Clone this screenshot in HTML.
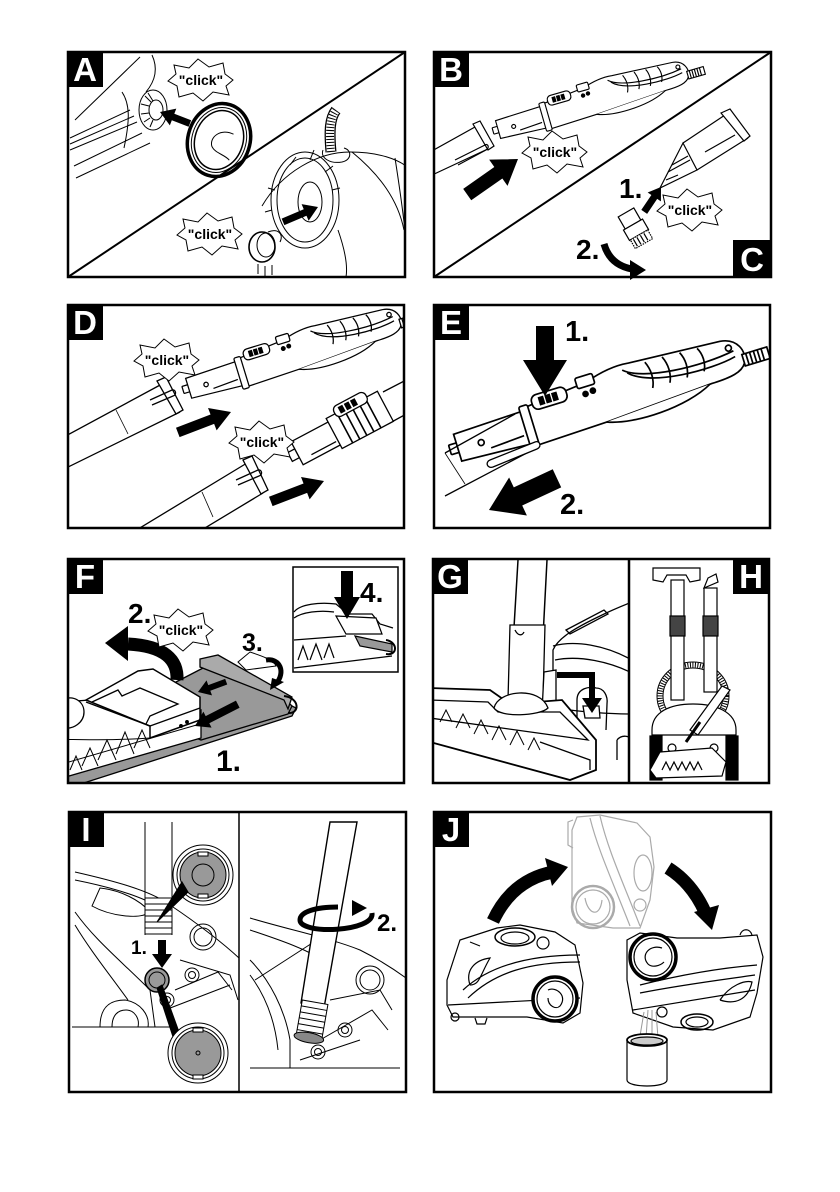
<!DOCTYPE html>
<html><head><meta charset="utf-8"><style>html,body{margin:0;padding:0;background:#fff}svg{display:block}</style></head>
<body>
<svg width="840" height="1192" viewBox="0 0 840 1192" xmlns="http://www.w3.org/2000/svg">
<defs>
<path id="burst" d="M32,0 L25,6 L28,15 L12,12 L2,21 L-8,13 L-22,17 L-24,6 L-33,1 L-25,-6 L-27,-15 L-12,-12 L-3,-21 L8,-13 L22,-17 L24,-6 Z" fill="#fff" stroke="#000" stroke-width="1"/>
<g id="hdl" fill="#fff" stroke="#000" stroke-width="1.7">
 <rect x="0" y="-5" width="9" height="10" rx="1"/>
 <path d="M8,-14 L80,-16 L80,18 L8,14 Z"/>
 <circle cx="32" cy="2" r="3"/>
 <path d="M40,10 L75,8"/>
 <path d="M86,-19 L150,-25 C165,-30 180,-33 196,-31 L290,-25 C307,-23 313,-8 307,3 C302,11 290,13 270,13 L160,19 L86,21 Z"/>
 <path d="M158,19 C185,30 240,28 268,13"/>
 <rect x="78" y="-21" width="9" height="44" rx="2"/>
 <rect x="92" y="-28" width="36" height="15" rx="6"/>
 <rect x="100" y="-24" width="4" height="7" fill="#000"/>
 <rect x="107" y="-24" width="4" height="7" fill="#000"/>
 <rect x="114" y="-24" width="4" height="7" fill="#000"/>
 <rect x="140" y="-32" width="18" height="11" rx="2"/>
 <circle cx="146" cy="-14" r="2.5" fill="#000"/>
 <circle cx="154" cy="-15" r="2.5" fill="#000"/>
 <path d="M188,-26 C205,-10 265,-6 300,-12" fill="none"/>
 <path d="M192,-22 C210,-2 275,0 300,-6" fill="none"/>
 <path d="M212,-27 C216,-18 216,-8 212,0 M230,-27 C234,-18 234,-8 230,0 M248,-26 C252,-18 252,-8 248,0 M266,-25 C270,-18 270,-8 266,-1" fill="none"/>
 <circle cx="296" cy="-16" r="3"/>
 <rect x="307" y="-6" width="26" height="12"/>
 <path d="M311,-6 v12 M315,-6 v12 M319,-6 v12 M323,-6 v12 M327,-6 v12" fill="none"/>
</g>
<clipPath id="cA"><rect x="68" y="52" width="337" height="225"/></clipPath>
<clipPath id="cB"><rect x="434" y="52" width="337" height="225"/></clipPath>
<clipPath id="cD"><rect x="68" y="305" width="336" height="223"/></clipPath>
<clipPath id="cE"><rect x="434" y="305" width="336" height="223"/></clipPath>
<clipPath id="cF"><rect x="68" y="559" width="336" height="224"/></clipPath>
<clipPath id="cG"><rect x="433" y="559" width="196" height="224"/></clipPath>
<clipPath id="cH"><rect x="629" y="559" width="140" height="224"/></clipPath>
<clipPath id="cI"><rect x="69" y="812" width="337" height="280"/></clipPath>
<clipPath id="cJ"><rect x="434" y="812" width="337" height="280"/></clipPath>
</defs>
<rect width="840" height="1192" fill="#fff"/>

<!-- ================= PANEL A ================= -->
<g clip-path="url(#cA)" fill="none" stroke="#000" stroke-width="1">
 <path d="M75,120 L140,57"/>
 <path d="M152,55 C158,68 156,80 146,92"/>
 <path d="M70,138 L130,110 M70,144 L134,116 M70,150 L137,122 M74,166 L142,133 M76,178 L150,143"/>
 <path d="M122,92 C130,104 130,120 124,148"/>
 <ellipse cx="153" cy="110" rx="14" ry="20"/>
 <ellipse cx="156" cy="110" rx="7" ry="10"/>
 <path d="M145,96 L151,102 M141,104 L149,106 M141,114 L149,113 M144,122 L150,118 M150,127 L153,120 M148,93 L153,101"/>
 <g transform="translate(219,140) rotate(18)">
  <ellipse rx="31" ry="37" stroke-width="3.5"/>
  <ellipse rx="27" ry="33"/>
  <ellipse rx="24" ry="30" stroke-width="1.5"/>
  <path d="M12,-10 C-2,-12 -10,0 -5,8 C0,14 10,12 16,16"/>
 </g>
 <path d="M262,206 C282,172 318,152 350,152 C380,152 398,160 406,166"/>
 <path d="M395,158 C400,190 404,220 406,240"/>
 <path d="M352,152 C380,175 398,200 404,230"/>
 <ellipse cx="305" cy="200" rx="34" ry="48"/>
 <ellipse cx="305" cy="200" rx="28" ry="42"/>
 <ellipse cx="310" cy="202" rx="12" ry="20"/>
 <path d="M290,165 l6,-8 M310,160 l4,-10 M325,172 l8,-6 M332,190 l8,-2 M275,190 l-7,-2 M272,210 l-7,2"/>
 <path d="M338,230 C345,250 348,265 346,277"/>
 <path d="M323,150 C320,158 330,164 342,162 C352,160 352,150 344,148"/>
 <path d="M331,152 C329,130 330,118 336,110" stroke="#000" stroke-width="11"/>
 <path d="M331,152 C329,130 330,118 336,110" stroke="#fff" stroke-width="8.5"/>
 <path d="M331,152 C329,130 330,118 336,110" stroke="#000" stroke-width="8" stroke-dasharray="1 2"/>
 <ellipse cx="262" cy="247" rx="13" ry="15" stroke-width="1.6"/>
 <ellipse cx="266" cy="245" rx="9" ry="12"/>
 <path d="M268,232 C278,228 284,234 280,242"/>
 <path d="M258,264 v10 M265,266 v10 M272,265 v10"/>
</g>
<line x1="68" y1="277" x2="405" y2="52" stroke="#000" stroke-width="2"/>
<g transform="translate(160,112) rotate(201)"><polygon points="0,0 -14,-9 -14,-3.5 -32,-3.5 -32,3.5 -14,3.5 -14,9" fill="#000"/></g>
<g transform="translate(318,207) rotate(-23)"><polygon points="0,0 -14,-9 -14,-3.5 -38,-3.5 -38,3.5 -14,3.5 -14,9" fill="#000"/></g>
<use href="#burst" x="201" y="80"/>
<text x="201" y="85" font-family="Liberation Sans, Arial, sans-serif" font-weight="bold" font-size="14" text-anchor="middle">"click"</text>
<use href="#burst" x="210" y="234"/>
<text x="210" y="239" font-family="Liberation Sans, Arial, sans-serif" font-weight="bold" font-size="14" text-anchor="middle">"click"</text>
<rect x="68" y="52" width="337" height="225" fill="none" stroke="#000" stroke-width="2.5"/>
<rect x="67" y="51" width="36" height="36" fill="#000"/>
<text x="85" y="81" fill="#fff" font-family="Liberation Sans, Arial, sans-serif" font-weight="bold" font-size="33" text-anchor="middle">A</text>

<!-- ================= PANEL B / C ================= -->
<g clip-path="url(#cB)">
 <g fill="none" stroke="#000" stroke-width="1.2">
  <path d="M430,152 L475,127 M430,176 L492,147"/>
  <path d="M473,124 L480,121 L494,146 L488,150 Z" fill="#fff"/>
  <path d="M455,160 L485,145 C488,143 490,148 486,150 L458,165"/>
  <path d="M683,143 L725,115 M697,170 L748,138"/>
  <path d="M721,113 L730,109 L750,136 L744,141 Z" fill="#fff"/>
  <path d="M705,152 L735,135"/>
  <path d="M660,188 L683,143 L697,170 Z" fill="#fff"/>
  <path d="M668,172 L690,160 M672,165 L688,156 M666,180 L678,175"/>
  <g transform="translate(635,228) rotate(-30)">
   <rect x="-9" y="-18" width="18" height="14" fill="#fff"/>
   <rect x="-11" y="-4" width="22" height="12" fill="#fff"/>
   <rect x="-10" y="8" width="20" height="10" fill="#fff" stroke-dasharray="1.5 1"/>
   <path d="M-7,9 v8 M-3,9 v8 M1,9 v8 M5,9 v8"/>
  </g>
 </g>
 <use href="#hdl" transform="translate(493,131) rotate(-16) scale(0.66)"/>
</g>
<line x1="434" y1="277" x2="771" y2="52" stroke="#000" stroke-width="2"/>
<g transform="translate(518,159) rotate(-35)"><polygon points="0,0 -24,-16 -24,-7 -62,-7 -62,7 -24,7 -24,16" fill="#000"/></g>
<g transform="translate(661,187) rotate(-56)"><polygon points="0,0 -12,-8 -12,-3.5 -30,-3.5 -30,3.5 -12,3.5 -12,8" fill="#000"/></g>
<path d="M604,244 Q610,265 632,269" fill="none" stroke="#000" stroke-width="7"/>
<polygon points="646,270 630,260 630,280" fill="#000"/>
<use href="#burst" x="555" y="152"/>
<text x="555" y="157" font-family="Liberation Sans, Arial, sans-serif" font-weight="bold" font-size="14" text-anchor="middle">"click"</text>
<use href="#burst" x="690" y="210"/>
<text x="690" y="215" font-family="Liberation Sans, Arial, sans-serif" font-weight="bold" font-size="14" text-anchor="middle">"click"</text>
<text x="619" y="198" font-family="Liberation Sans, Arial, sans-serif" font-weight="bold" font-size="28">1.</text>
<text x="576" y="259" font-family="Liberation Sans, Arial, sans-serif" font-weight="bold" font-size="28">2.</text>
<rect x="434" y="52" width="337" height="225" fill="none" stroke="#000" stroke-width="2.5"/>
<rect x="433" y="51" width="36" height="36" fill="#000"/>
<text x="451" y="81" fill="#fff" font-family="Liberation Sans, Arial, sans-serif" font-weight="bold" font-size="33" text-anchor="middle">B</text>
<rect x="733" y="240" width="38" height="37" fill="#000"/>
<text x="752" y="271" fill="#fff" font-family="Liberation Sans, Arial, sans-serif" font-weight="bold" font-size="33" text-anchor="middle">C</text>

<!-- ================= PANEL D ================= -->
<g clip-path="url(#cD)">
 <g fill="none" stroke="#000" stroke-width="1.3">
  <path d="M62,438 L162,384 M62,470 L180,412"/>
  <path d="M116,410 L128,434" stroke-width="0.8"/>
  <path d="M157,381 L166,377 L183,410 L176,414 Z" fill="#fff"/>
  <path d="M150,400 L172,390 C176,389 177,395 173,396 L152,405"/>
  <path d="M120,540 L247,463 M185,540 L263,493"/>
  <path d="M202,492 L213,517" stroke-width="0.8"/>
  <path d="M243,460 L252,456 L268,490 L261,494 Z" fill="#fff"/>
  <path d="M236,480 L258,470 C262,469 263,475 259,476 L238,485"/>
  <path d="M383,392 L410,378 M388,424 L410,412"/>
 </g>
 <use href="#hdl" transform="translate(183,390) rotate(-17) scale(0.74)"/>
 <g transform="translate(290,457) rotate(-28)" fill="#fff" stroke="#000" stroke-width="1.3">
  <rect x="0" y="-5" width="8" height="10"/>
  <rect x="8" y="-13" width="44" height="26"/>
  <rect x="50" y="-17" width="58" height="34"/>
  <path d="M62,-17 v34 M70,-17 v34 M78,-17 v34 M86,-17 v34 M94,-17 v34" stroke-width="1.6"/>
  <rect x="60" y="-24" width="36" height="12" rx="5"/>
  <rect x="66" y="-21" width="4" height="6" fill="#000"/><rect x="73" y="-21" width="4" height="6" fill="#000"/><rect x="80" y="-21" width="4" height="6" fill="#000"/>
  <path d="M20,8 L48,8"/>
 </g>
</g>
<g transform="translate(231,412) rotate(-21)"><polygon points="0,0 -20,-12 -20,-5 -57,-5 -57,5 -20,5 -20,12" fill="#000"/></g>
<g transform="translate(324,481) rotate(-21)"><polygon points="0,0 -20,-12 -20,-5 -57,-5 -57,5 -20,5 -20,12" fill="#000"/></g>
<use href="#burst" x="167" y="360"/>
<text x="167" y="365" font-family="Liberation Sans, Arial, sans-serif" font-weight="bold" font-size="14" text-anchor="middle">"click"</text>
<use href="#burst" x="262" y="442"/>
<text x="262" y="447" font-family="Liberation Sans, Arial, sans-serif" font-weight="bold" font-size="14" text-anchor="middle">"click"</text>
<rect x="68" y="305" width="336" height="223" fill="none" stroke="#000" stroke-width="2.5"/>
<rect x="67" y="304" width="36" height="36" fill="#000"/>
<text x="85" y="334" fill="#fff" font-family="Liberation Sans, Arial, sans-serif" font-weight="bold" font-size="33" text-anchor="middle">D</text>

<!-- ================= PANEL E ================= -->
<g clip-path="url(#cE)">
 <use href="#hdl" transform="translate(450,450) rotate(-17)"/>
 <g fill="none" stroke="#000" stroke-width="1.3">
  <path d="M445,453 L515,414 M445,496 L540,446"/>
  <path d="M445,453 L465,484" stroke-width="0.8"/>
  <path d="M490,460 L535,442 C540,440 542,447 537,449 L493,467 C487,469 485,462 490,460 Z" fill="#fff"/>
 </g>
</g>
<g transform="translate(545,396) rotate(90)"><polygon points="0,0 -36,-22 -36,-9 -70,-9 -70,9 -36,9 -36,22" fill="#000"/></g>
<g transform="translate(489,510) rotate(155)"><polygon points="0,0 -32,-21 -32,-10 -75,-10 -75,10 -32,10 -32,21" fill="#000"/></g>
<text x="565" y="341" font-family="Liberation Sans, Arial, sans-serif" font-weight="bold" font-size="29">1.</text>
<text x="560" y="514" font-family="Liberation Sans, Arial, sans-serif" font-weight="bold" font-size="29">2.</text>
<rect x="434" y="305" width="336" height="223" fill="none" stroke="#000" stroke-width="2.5"/>
<rect x="433" y="304" width="36" height="36" fill="#000"/>
<text x="451" y="334" fill="#fff" font-family="Liberation Sans, Arial, sans-serif" font-weight="bold" font-size="33" text-anchor="middle">E</text>

<!-- ================= PANEL F ================= -->
<g clip-path="url(#cF)" stroke="#000" stroke-width="1.3">
 <polygon points="62,774 288,704 296,708 292,716 62,790" fill="#999"/>
 <polygon points="176,682 205,667 284,698 292,706 288,714 201,740 196,738" fill="#999"/>
 <polygon points="200,659 218,655 292,697 288,709 284,700 200,667" fill="#aaa"/>
 <path d="M284,696 C300,698 300,714 288,713" fill="none" stroke-width="2"/>
 <path d="M62,702 L90,700 L150,726 L201,710 L201,738 L62,778 Z" fill="#fff"/>
 <path d="M86,700 L138,671 L153,669 L200,697 L200,720 L150,738 L150,726 Z" fill="#fff" stroke-width="1.5"/>
 <path d="M86,702 L150,726 M150,726 L200,708" fill="none"/>
 <path d="M92,702 L118,690 L122,696 L140,688 L178,704 L150,716 L146,724" fill="none"/>
 <path d="M62,700 C74,694 84,702 84,712 C84,722 74,730 62,728" fill="#fff"/>
 <path d="M62,740 C75,738 90,742 150,738" fill="none" stroke-width="1"/>
 <path d="M70,770 l6,-14 l6,14 M82,766 l8,-18 l8,18 M98,760 l9,-20 l9,20 M116,754 l9,-22 l9,22 M134,748 l8,-18 l8,18" fill="none" stroke-width="1"/>
 <path d="M62,764 L200,724" fill="none" stroke-width="1"/>
 <circle cx="181" cy="726" r="1.3" fill="#000"/><circle cx="187" cy="722" r="1.3" fill="#000"/>
</g>
<path d="M177,680 C178,660 165,646 128,644" fill="none" stroke="#000" stroke-width="13"/>
<polygon points="105,643 128,626 128,661" fill="#000"/>
<g transform="translate(198,692) rotate(160)"><polygon points="0,0 -12,-8 -12,-3 -30,-3 -30,3 -12,3 -12,8" fill="#000"/></g>
<g transform="translate(195,726) rotate(153)"><polygon points="0,0 -14,-9 -14,-4 -48,-4 -48,4 -14,4 -14,9" fill="#000"/></g>
<path d="M238,662 L250,652 C262,656 274,660 276,666 L246,670 Z" fill="#fff" stroke="#000" stroke-width="1"/>
<path d="M266,660 C280,658 286,672 276,684" fill="none" stroke="#000" stroke-width="5"/>
<polygon points="270,690 284,682 272,678" fill="#000"/>
<use href="#burst" x="181" y="630"/>
<text x="181" y="635" font-family="Liberation Sans, Arial, sans-serif" font-weight="bold" font-size="14" text-anchor="middle">"click"</text>
<text x="128" y="623" font-family="Liberation Sans, Arial, sans-serif" font-weight="bold" font-size="28">2.</text>
<text x="242" y="651" font-family="Liberation Sans, Arial, sans-serif" font-weight="bold" font-size="25">3.</text>
<text x="216" y="771" font-family="Liberation Sans, Arial, sans-serif" font-weight="bold" font-size="30">1.</text>
<rect x="293" y="567" width="105" height="105" fill="#fff" stroke="#000" stroke-width="1.5"/>
<g stroke="#000" stroke-width="1.2" fill="none">
 <path d="M294,612 C300,604 320,602 336,604 L348,614 L372,614 L380,624 L393,628" />
 <path d="M294,618 C302,612 320,610 334,612"/>
 <path d="M336,616 L376,618 L382,634 L346,634 Z" fill="#fff"/>
 <path d="M355,636 L392,644 L392,652 L360,646 Z" fill="#999"/>
 <path d="M386,640 C398,642 398,656 386,654" stroke-width="2"/>
 <path d="M294,640 L346,636 M294,668 L392,656"/>
 <path d="M298,660 l5,-14 l5,14 M310,660 l6,-16 l6,16 M324,658 l5,-14 l5,14"/>
</g>
<g transform="translate(347,619) rotate(90)"><polygon points="0,0 -22,-13 -22,-6 -48,-6 -48,6 -22,6 -22,13" fill="#000"/></g>
<text x="360" y="602" font-family="Liberation Sans, Arial, sans-serif" font-weight="bold" font-size="28">4.</text>
<rect x="68" y="559" width="336" height="224" fill="none" stroke="#000" stroke-width="2.5"/>
<rect x="67" y="558" width="36" height="36" fill="#000"/>
<text x="85" y="588" fill="#fff" font-family="Liberation Sans, Arial, sans-serif" font-weight="bold" font-size="33" text-anchor="middle">F</text>

<!-- ================= PANEL G ================= -->
<g clip-path="url(#cG)" stroke="#000" stroke-width="1.3" fill="none">
 <path d="M553,700 L553,650 C558,638 575,628 600,616 C612,610 622,606 632,602"/>
 <path d="M553,646 C575,640 605,645 632,660"/>
 <path d="M555,660 C580,655 610,662 632,673"/>
 <path d="M566,630 L604,610 L608,614 L570,634 Z"/>
 <path d="M556,708 C580,712 610,714 632,714"/>
 <path d="M577,730 L577,700 C577,688 590,686 596,688 C604,688 608,696 607,704 L606,730"/>
 <path d="M583,706 L599,706 L600,718 L585,718 Z" fill="#fff"/>
 <path d="M586,730 L586,770 M617,740 C622,734 630,736 632,740 M617,740 L617,760"/>
 <path d="M518,560 L510,695 M547,560 L540,695" stroke-width="1.5"/>
 <path d="M510,625 L545,625 L543,700 L508,700 Z" fill="#fff"/>
 <path d="M515,630 C518,636 522,636 524,632"/>
 <path d="M544,672 L556,670 L556,708 L542,712 Z" fill="#fff"/>
 <path d="M430,688 L490,690 L510,704 L562,700 L596,740 L596,770 L570,780 L430,742 Z" fill="#fff" stroke-width="1.8"/>
 <path d="M430,700 L488,702 L498,712 L560,712 L588,740 L430,718"/>
 <path d="M494,708 C498,690 540,686 548,708 C540,716 500,718 494,708 Z" fill="#fff"/>
 <path d="M440,722 l6,-12 l6,12 M456,728 l7,-14 l7,14 M474,734 l7,-14 l7,14 M492,740 l7,-14 l7,14 M510,745 l7,-14 l7,14 M528,750 l6,-12 l6,12" stroke-width="1"/>
 <path d="M540,742 L590,760 L590,770"/>
</g>
<path d="M557,675 L592,675 L592,700" fill="none" stroke="#000" stroke-width="6"/>
<polygon points="582,698 602,698 592,713" fill="#000"/>
<!-- ================= PANEL H ================= -->
<g clip-path="url(#cH)" stroke="#000" stroke-width="1.2" fill="none">
 <ellipse cx="693" cy="696" rx="33" ry="31" stroke-width="7"/>
 <ellipse cx="693" cy="696" rx="33" ry="31" stroke="#fff" stroke-width="5"/>
 <ellipse cx="693" cy="696" rx="33" ry="31" stroke-width="5" stroke-dasharray="1 1.5"/>
 <path d="M652,778 L652,730 C652,712 670,704 693,704 C716,704 736,712 736,730 L736,778" fill="#fff"/>
 <path d="M652,735 L736,735"/>
 <rect x="650" y="736" width="12" height="44" fill="#000"/>
 <rect x="726" y="736" width="12" height="44" fill="#000"/>
 <circle cx="672" cy="748" r="4"/><circle cx="714" cy="748" r="4"/>
 <rect x="671" y="580" width="13" height="120" fill="#fff"/>
 <rect x="704" y="588" width="13" height="104" fill="#fff"/>
 <path d="M704,588 L708,578 L716,574 L718,582 Z" fill="#fff"/>
 <rect x="670" y="616" width="15" height="20" fill="#444"/>
 <rect x="703" y="616" width="15" height="20" fill="#444"/>
 <path d="M653,568 L700,568 L700,580 L690,582 L686,575 L667,575 L663,582 L653,580 Z" fill="#fff"/>
 <path d="M690,730 L722,686 L730,690 L698,735 Z" fill="#fff"/>
 <path d="M686,742 L700,722" stroke-width="3"/>
 <path d="M660,752 L712,748 L726,762 L722,776 L656,778 L650,770 Z" fill="#fff"/>
 <path d="M662,770 l4,-8 l4,8 l4,-8 l4,8 l4,-8 l4,8 l4,-8 l4,8 l4,-8 l4,8"/>
</g>
<line x1="629" y1="559" x2="629" y2="783" stroke="#000" stroke-width="2.5"/>
<rect x="433" y="559" width="336" height="224" fill="none" stroke="#000" stroke-width="2.5"/>
<rect x="432" y="558" width="36" height="36" fill="#000"/>
<text x="450" y="588" fill="#fff" font-family="Liberation Sans, Arial, sans-serif" font-weight="bold" font-size="33" text-anchor="middle">G</text>
<rect x="733" y="558" width="36" height="36" fill="#000"/>
<text x="751" y="588" fill="#fff" font-family="Liberation Sans, Arial, sans-serif" font-weight="bold" font-size="33" text-anchor="middle">H</text>

<!-- ================= PANEL I ================= -->
<g clip-path="url(#cI)" stroke="#000" stroke-width="1" fill="none">
 <path d="M75,872 C110,880 150,890 170,905 C200,925 225,945 239,958"/>
 <path d="M75,880 C105,886 140,895 160,908"/>
 <path d="M100,888 C120,890 140,900 150,912 C140,920 110,916 92,906 Z"/>
 <path d="M75,912 C95,940 120,960 150,990 L155,1027"/>
 <path d="M75,925 C90,950 110,975 128,1000"/>
 <path d="M72,1027 L170,1027"/>
 <path d="M100,1027 C100,1005 112,1000 125,1000 C140,1002 150,1015 148,1027"/>
 <path d="M112,1027 C112,1015 118,1010 126,1010 C134,1010 140,1018 138,1027"/>
 <circle cx="203" cy="937" r="13"/><circle cx="203" cy="937" r="9"/>
 <path d="M180,960 L230,975 L238,1000 M175,990 L218,972 L232,990 M165,1010 L230,985"/>
 <circle cx="192" cy="975" r="7"/><circle cx="192" cy="975" r="3.5"/>
 <circle cx="167" cy="1000" r="7"/><circle cx="167" cy="1000" r="3.5"/>
 <circle cx="157" cy="980" r="12" fill="#999" stroke-width="1.5"/>
 <circle cx="157" cy="980" r="8" stroke-width="1"/>
 <path d="M145,822 L145,935 M172,822 L172,935"/>
 <rect x="145" y="898" width="27" height="36" fill="#fff"/>
 <path d="M145,904 h27 M145,910 h27 M145,916 h27 M145,922 h27 M145,928 h27"/>
 <circle cx="203" cy="875" r="30" fill="#fff"/>
 <circle cx="203" cy="875" r="26"/>
 <circle cx="203" cy="875" r="23" fill="#999"/>
 <circle cx="203" cy="875" r="11" fill="#999"/>
 <path d="M198,852 h10 v4 h-10 Z M198,894 h10 v4 h-10 Z" fill="#fff"/>
 <polygon points="182,882 188,892 157,922" fill="#000"/>
 <polygon points="157,988 162,985 183,1043 176,1046" fill="#000"/>
 <circle cx="198" cy="1053" r="30" fill="#fff"/>
 <circle cx="198" cy="1053" r="26"/>
 <circle cx="198" cy="1053" r="23" fill="#999"/>
 <circle cx="198" cy="1053" r="2"/>
 <path d="M193,1028 h10 v4 h-10 Z M193,1075 h10 v4 h-10 Z" fill="#fff"/>
 <path d="M250,918 C290,930 330,938 360,950 C380,960 395,970 406,978"/>
 <path d="M250,930 C280,940 310,950 330,965"/>
 <path d="M250,960 C270,980 285,1010 290,1040 L290,1068"/>
 <path d="M250,975 C265,995 275,1020 278,1050"/>
 <path d="M255,980 L320,938"/>
 <circle cx="370" cy="980" r="14"/><circle cx="370" cy="980" r="10"/>
 <path d="M330,1000 L380,990 L392,1010 M320,1040 L372,1010 L388,1030 M300,1060 L360,1040"/>
 <circle cx="345" cy="1030" r="7"/><circle cx="345" cy="1030" r="3.5"/>
 <circle cx="318" cy="1052" r="7"/><circle cx="318" cy="1052" r="3.5"/>
 <path d="M250,1068 L400,1068"/>
 <path d="M330,822 L357,822 L324,1008 L301,1003 Z" fill="#fff" stroke-width="1.4"/>
 <g transform="translate(312,1020) rotate(10)">
  <rect x="-13" y="-18" width="26" height="34" fill="#fff"/>
  <path d="M-13,-12 h26 M-13,-6 h26 M-13,0 h26 M-13,6 h26 M-13,12 h26"/>
  <ellipse cx="0" cy="18" rx="15" ry="5" fill="#888"/>
 </g>
</g>
<path d="M372,913 C375,932 300,935 300,920 C300,912 315,907 338,907" fill="none" stroke="#000" stroke-width="5"/>
<polygon points="352,900 367,908 352,916" fill="#000"/>
<g transform="translate(162,968) rotate(90)"><polygon points="0,0 -14,-10 -14,-4 -28,-4 -28,4 -14,4 -14,10" fill="#000"/></g>
<text x="131" y="954" font-family="Liberation Sans, Arial, sans-serif" font-weight="bold" font-size="19">1.</text>
<text x="377" y="931" font-family="Liberation Sans, Arial, sans-serif" font-weight="bold" font-size="24">2.</text>
<line x1="239" y1="812" x2="239" y2="1092" stroke="#000" stroke-width="1.5"/>
<rect x="69" y="812" width="337" height="280" fill="none" stroke="#000" stroke-width="2.5"/>
<rect x="68" y="811" width="36" height="36" fill="#000"/>
<text x="86" y="841" fill="#fff" font-family="Liberation Sans, Arial, sans-serif" font-weight="bold" font-size="33" text-anchor="middle">I</text>

<!-- ================= PANEL J ================= -->
<g clip-path="url(#cJ)" fill="none">
 <g stroke="#aaa" stroke-width="1.2">
  <path d="M577,817 L600,815 L637,823 L650,837 L654,867 L650,900 L640,928 L613,928 L577,923 L572,907 L572,830 Z" fill="#fff"/>
  <path d="M590,818 C598,850 612,880 630,926 M600,816 C608,850 622,880 640,926"/>
  <circle cx="593" cy="907" r="21" stroke-width="2.5"/>
  <circle cx="593" cy="907" r="17"/>
  <path d="M585,898 C588,915 600,918 602,900"/>
  <ellipse cx="643" cy="873" rx="9" ry="18"/>
  <circle cx="640" cy="905" r="6"/>
  <path d="M573,820 L568,822 L568,845 L573,848"/>
 </g>
 <g stroke="#000" stroke-width="1.2">
  <path d="M447,1005 L447,980 L460,940 L497,928 L520,925 L555,932 L575,945 L583,983 L580,1013 L563,1023 L527,1017 L453,1017 Z" fill="#fff"/>
  <ellipse cx="515" cy="937" rx="20" ry="9" stroke-width="1.5"/>
  <ellipse cx="515" cy="938" rx="14" ry="6"/>
  <circle cx="543" cy="943" r="6"/>
  <path d="M463,990 C490,965 530,955 580,955"/>
  <path d="M468,998 C495,972 530,962 580,962"/>
  <path d="M448,1005 L580,998"/>
  <path d="M470,985 C465,970 475,960 490,958 C480,975 480,985 470,985"/>
  <path d="M470,942 L480,946"/>
  <circle cx="555" cy="999" r="22" fill="#fff" stroke-width="3.5"/>
  <circle cx="555" cy="999" r="18"/>
  <path d="M548,990 C556,986 568,996 560,1006 C556,1010 548,1006 548,998"/>
  <circle cx="455" cy="1017" r="4"/>
  <path d="M475,1018 l2,6 l8,0 l2,-6"/>
 </g>
 <g stroke="#000" stroke-width="1.2">
  <path d="M627,980 L627,940 L640,933 L677,938 L720,938 L757,935 L763,957 L757,993 L750,1017 L713,1030 L673,1027 L633,1013 Z" fill="#fff"/>
  <path d="M640,985 C680,975 720,968 757,965"/>
  <path d="M640,993 C680,985 720,980 755,975"/>
  <path d="M633,1010 L755,990"/>
  <path d="M720,1000 C730,985 745,980 752,982 C748,1000 735,1005 720,1000"/>
  <ellipse cx="697" cy="1022" rx="16" ry="8" stroke-width="1.5"/>
  <ellipse cx="697" cy="1022" rx="11" ry="5"/>
  <circle cx="662" cy="1012" r="5"/>
  <path d="M740,935 C742,928 750,928 752,935"/>
  <circle cx="653" cy="957" r="23" fill="#fff" stroke-width="3.5"/>
  <circle cx="653" cy="957" r="19"/>
  <path d="M662,948 C650,944 640,955 648,964 C652,968 660,966 664,962"/>
 </g>
 <path d="M648,1010 L646,1038 M652,1010 L652,1038 M656,1012 L658,1038 M644,1012 L640,1036" stroke="#999" stroke-width="1"/>
 <g stroke="#000" stroke-width="1.2">
  <path d="M627,1040 L627,1080 C627,1088 667,1088 667,1080 L667,1040" fill="#fff"/>
  <ellipse cx="647" cy="1040" rx="20" ry="6" fill="#fff" stroke-width="1.8"/>
  <ellipse cx="647" cy="1041" rx="16" ry="4" fill="#ccc"/>
 </g>
</g>
<path d="M493,921 Q512,880 553,872" fill="none" stroke="#000" stroke-width="13"/>
<polygon points="545,858 568,867 552,886" fill="#000"/>
<path d="M668,868 Q692,883 705,912" fill="none" stroke="#000" stroke-width="13"/>
<polygon points="694,912 712,930 719,905" fill="#000"/>
<rect x="434" y="812" width="337" height="280" fill="none" stroke="#000" stroke-width="2.5"/>
<rect x="433" y="811" width="36" height="36" fill="#000"/>
<text x="451" y="841" fill="#fff" font-family="Liberation Sans, Arial, sans-serif" font-weight="bold" font-size="33" text-anchor="middle">J</text>
</svg>
</body></html>
